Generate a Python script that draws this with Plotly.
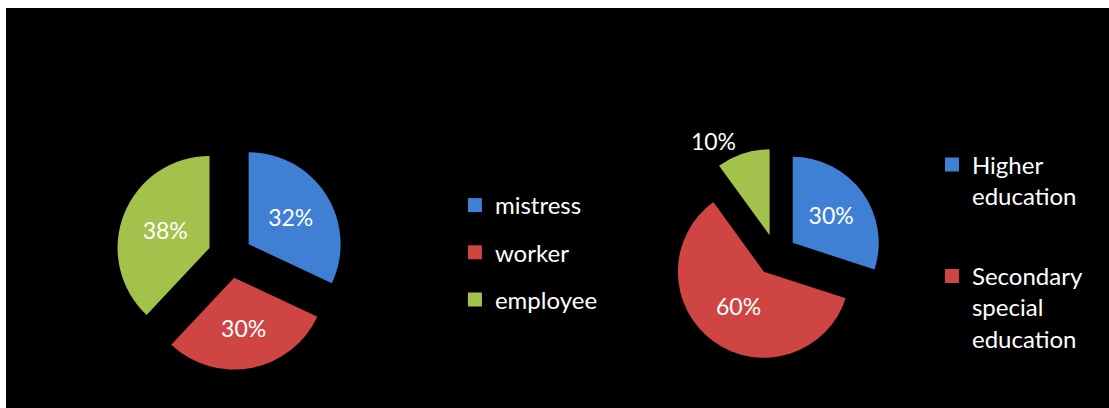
import plotly.graph_objects as go

# Occupation split
occupation_labels = ["mistress", "worker", "employee"]
occupation_values = [32, 30, 38]

# Education split
education_labels = ["Higher education", "Secondary special education", "Secondary education"]
education_legend_names = ["Higher<br>education", "Secondary<br>special<br>education"]
education_values = [30, 60, 10]

slice_colors = ["#4080d4", "#cf4543", "#a3c24b"]

FONT = "Lato, 'Open Sans', sans-serif"
PULL = 0.24

fig = go.Figure()

fig.add_trace(go.Pie(
    labels=occupation_labels,
    values=occupation_values,
    sort=False,
    direction="clockwise",
    rotation=0,
    pull=[PULL] * len(occupation_values),
    marker=dict(colors=slice_colors, line=dict(width=0)),
    textinfo="percent",
    textposition="inside",
    insidetextorientation="horizontal",
    textfont=dict(family=FONT, size=23, color="white"),
    showlegend=False,
    hoverinfo="label+percent",
    domain=dict(x=[0.0997, 0.3065], y=[0.095, 0.665]),
))

fig.add_trace(go.Pie(
    labels=education_labels,
    values=education_values,
    sort=False,
    direction="clockwise",
    rotation=0,
    pull=[PULL] * len(education_values),
    marker=dict(colors=slice_colors, line=dict(width=0)),
    textinfo="percent",
    textposition=["inside", "inside", "outside"],
    insidetextorientation="horizontal",
    textfont=dict(family=FONT, size=23, color="white"),
    outsidetextfont=dict(family=FONT, size=23, color="white"),
    showlegend=False,
    hoverinfo="label+percent",
    domain=dict(x=[0.6014, 0.7948], y=[0.1158, 0.6492]),
))

# Legend entries (square swatches) for each chart
for name, color in zip(occupation_labels, slice_colors):
    fig.add_trace(go.Scatter(
        x=[None], y=[None], mode="markers", name=name,
        marker=dict(symbol="square", size=14, color=color),
        legend="legend", legendgroup="occ_" + name, showlegend=True,
    ))

for name, color in zip(education_legend_names, slice_colors):
    fig.add_trace(go.Scatter(
        x=[None], y=[None], mode="markers", name=name,
        marker=dict(symbol="square", size=14, color=color),
        legend="legend2", legendgroup="edu_" + name, showlegend=True,
    ))

fig.update_layout(
    width=1109,
    height=408,
    margin=dict(l=6, r=0, t=8, b=0),
    paper_bgcolor="white",
    plot_bgcolor="black",
    xaxis=dict(visible=False),
    yaxis=dict(visible=False),
    font=dict(family=FONT, color="white"),
    legend=dict(
        x=0.407, y=0.5625, xanchor="left", yanchor="top",
        bgcolor="rgba(0,0,0,0)", borderwidth=0,
        font=dict(family=FONT, size=24, color="white"),
        tracegroupgap=13, traceorder="grouped",
    ),
    legend2=dict(
        x=0.8395, y=0.664, xanchor="left", yanchor="top",
        bgcolor="rgba(0,0,0,0)", borderwidth=0,
        font=dict(family=FONT, size=24, color="white"),
        tracegroupgap=46, traceorder="grouped", valign="top",
    ),
)

fig.write_html("out.html", config={"displayModeBar": False})
